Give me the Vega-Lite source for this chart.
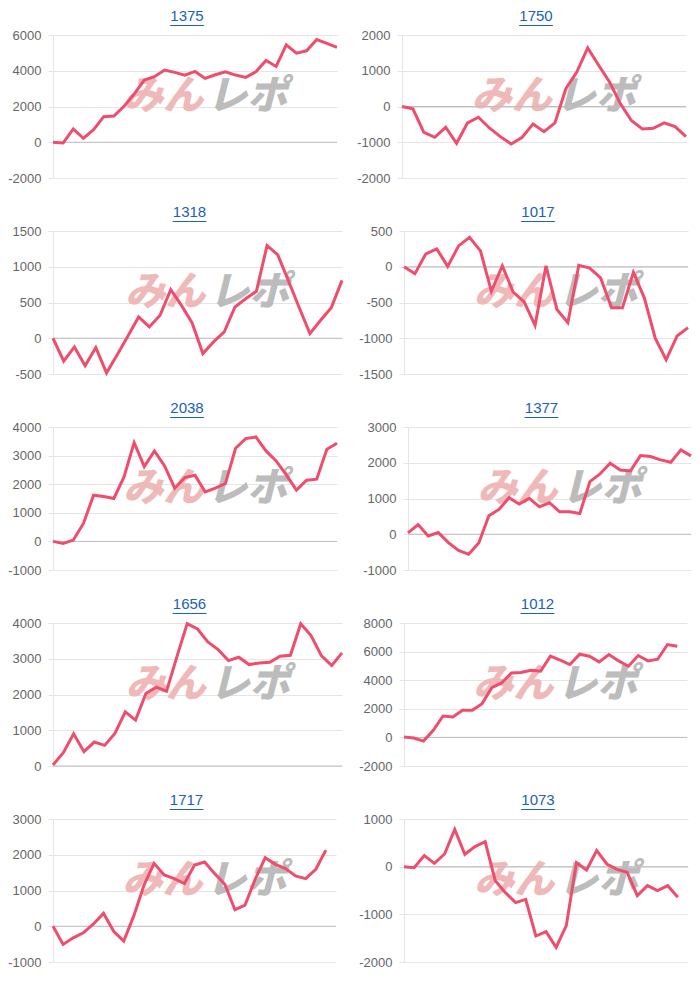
{
  "$schema": "https://vega.github.io/schema/vega-lite/v6.json",
  "background": "white",
  "padding": {"left": 0, "top": 9, "right": 0, "bottom": 0},
  "config": {
    "view": {"stroke": null},
    "font": "Liberation Sans",
    "axis": {
      "labelFont": "Liberation Sans",
      "labelFontSize": 13,
      "labelColor": "#666666",
      "labelPadding": 7,
      "labelOverlap": false,
      "labelExpr": "'' + datum.value",
      "grid": true,
      "tickSize": 5,
      "tickColor": "#e5e5e5",
      "gridColor": "#e5e5e5",
      "domainColor": "#e5e5e5",
      "title": null
    },
    "title": {
      "font": "Liberation Sans",
      "fontSize": 15,
      "fontWeight": "normal",
      "color": "#1a62b8",
      "anchor": "middle",
      "frame": "group",
      "dx": -8,
      "offset": 3,
      "subtitleFont": "Liberation Sans",
      "subtitleFontSize": 15,
      "subtitleColor": "#1a62b8",
      "subtitlePadding": -13
    }
  },
  "datasets": {
    "p1375": [{"i":0,"v":0},{"i":1,"v":-40},{"i":2,"v":744},{"i":3,"v":223},{"i":4,"v":707},{"i":5,"v":1433},{"i":6,"v":1470},{"i":7,"v":2009},{"i":8,"v":2698},{"i":9,"v":3479},{"i":10,"v":3665},{"i":11,"v":4037},{"i":12,"v":3907},{"i":13,"v":3758},{"i":14,"v":3963},{"i":15,"v":3572},{"i":16,"v":3777},{"i":17,"v":3944},{"i":18,"v":3758},{"i":19,"v":3628},{"i":20,"v":3944},{"i":21,"v":4577},{"i":22,"v":4242},{"i":23,"v":5451},{"i":24,"v":4986},{"i":25,"v":5116},{"i":26,"v":5749},{"i":27,"v":5526},{"i":28,"v":5302}],
    "p1750": [{"i":0,"v":0},{"i":1,"v":-66},{"i":2,"v":-721},{"i":3,"v":-862},{"i":4,"v":-581},{"i":5,"v":-1030},{"i":6,"v":-459},{"i":7,"v":-300},{"i":8,"v":-600},{"i":9,"v":-843},{"i":10,"v":-1049},{"i":11,"v":-862},{"i":12,"v":-487},{"i":13,"v":-703},{"i":14,"v":-459},{"i":15,"v":496},{"i":16,"v":965},{"i":17,"v":1639},{"i":18,"v":1152},{"i":19,"v":684},{"i":20,"v":75},{"i":21,"v":-393},{"i":22,"v":-628},{"i":23,"v":-609},{"i":24,"v":-459},{"i":25,"v":-562},{"i":26,"v":-843}],
    "p1318": [{"i":0,"v":0},{"i":1,"v":-321},{"i":2,"v":-121},{"i":3,"v":-386},{"i":4,"v":-130},{"i":5,"v":-484},{"i":6,"v":-230},{"i":7,"v":30},{"i":8,"v":298},{"i":9,"v":158},{"i":10,"v":321},{"i":11,"v":679},{"i":12,"v":460},{"i":13,"v":214},{"i":14,"v":-214},{"i":15,"v":-51},{"i":16,"v":88},{"i":17,"v":437},{"i":18,"v":553},{"i":19,"v":656},{"i":20,"v":1298},{"i":21,"v":1167},{"i":22,"v":800},{"i":23,"v":430},{"i":24,"v":65},{"i":25,"v":251},{"i":26,"v":428},{"i":27,"v":809}],
    "p1017": [{"i":0,"v":0},{"i":1,"v":-97},{"i":2,"v":181},{"i":3,"v":250},{"i":4,"v":5},{"i":5,"v":292},{"i":6,"v":412},{"i":7,"v":222},{"i":8,"v":-343},{"i":9,"v":14},{"i":10,"v":-356},{"i":11,"v":-491},{"i":12,"v":-819},{"i":13,"v":14},{"i":14,"v":-597},{"i":15,"v":-782},{"i":16,"v":19},{"i":17,"v":-19},{"i":18,"v":-157},{"i":19,"v":-574},{"i":20,"v":-574},{"i":21,"v":-79},{"i":22,"v":-435},{"i":23,"v":-1000},{"i":24,"v":-1301},{"i":25,"v":-968},{"i":26,"v":-852}],
    "p2038": [{"i":0,"v":0},{"i":1,"v":-70},{"i":2,"v":47},{"i":3,"v":628},{"i":4,"v":1616},{"i":5,"v":1570},{"i":6,"v":1500},{"i":7,"v":2256},{"i":8,"v":3453},{"i":9,"v":2616},{"i":10,"v":3163},{"i":11,"v":2640},{"i":12,"v":1860},{"i":13,"v":2233},{"i":14,"v":2314},{"i":15,"v":1733},{"i":16,"v":1860},{"i":17,"v":2023},{"i":18,"v":3256},{"i":19,"v":3593},{"i":20,"v":3651},{"i":21,"v":3163},{"i":22,"v":2814},{"i":23,"v":2326},{"i":24,"v":1791},{"i":25,"v":2140},{"i":26,"v":2174},{"i":27,"v":3221},{"i":28,"v":3430}],
    "p1377": [{"i":0,"v":37},{"i":1,"v":272},{"i":2,"v":-47},{"i":3,"v":47},{"i":4,"v":-234},{"i":5,"v":-450},{"i":6,"v":-562},{"i":7,"v":-243},{"i":8,"v":515},{"i":9,"v":693},{"i":10,"v":1021},{"i":11,"v":843},{"i":12,"v":1002},{"i":13,"v":768},{"i":14,"v":881},{"i":15,"v":628},{"i":16,"v":628},{"i":17,"v":581},{"i":18,"v":1471},{"i":19,"v":1686},{"i":20,"v":1986},{"i":21,"v":1799},{"i":22,"v":1770},{"i":23,"v":2201},{"i":24,"v":2173},{"i":25,"v":2079},{"i":26,"v":2014},{"i":27,"v":2360},{"i":28,"v":2192}],
    "p1656": [{"i":0,"v":28},{"i":1,"v":372},{"i":2,"v":902},{"i":3,"v":400},{"i":4,"v":670},{"i":5,"v":577},{"i":6,"v":912},{"i":7,"v":1516},{"i":8,"v":1284},{"i":9,"v":2028},{"i":10,"v":2205},{"i":11,"v":2093},{"i":12,"v":3051},{"i":13,"v":3981},{"i":14,"v":3833},{"i":15,"v":3470},{"i":16,"v":3256},{"i":17,"v":2949},{"i":18,"v":3042},{"i":19,"v":2837},{"i":20,"v":2884},{"i":21,"v":2902},{"i":22,"v":3070},{"i":23,"v":3098},{"i":24,"v":3981},{"i":25,"v":3647},{"i":26,"v":3088},{"i":27,"v":2809},{"i":28,"v":3163}],
    "p1012": [{"i":0,"v":23},{"i":1,"v":-47},{"i":2,"v":-257},{"i":3,"v":491},{"i":4,"v":1495},{"i":5,"v":1425},{"i":6,"v":1893},{"i":7,"v":1893},{"i":8,"v":2360},{"i":9,"v":3481},{"i":10,"v":3808},{"i":11,"v":4509},{"i":12,"v":4533},{"i":13,"v":4696},{"i":14,"v":4626},{"i":15,"v":5678},{"i":16,"v":5397},{"i":17,"v":5093},{"i":18,"v":5818},{"i":19,"v":5678},{"i":20,"v":5280},{"i":21,"v":5794},{"i":22,"v":5350},{"i":23,"v":4977},{"i":24,"v":5724},{"i":25,"v":5350},{"i":26,"v":5467},{"i":27,"v":6495},{"i":28,"v":6379}],
    "p1717": [{"i":0,"v":0},{"i":1,"v":-509},{"i":2,"v":-324},{"i":3,"v":-185},{"i":4,"v":65},{"i":5,"v":361},{"i":6,"v":-139},{"i":7,"v":-417},{"i":8,"v":296},{"i":9,"v":1148},{"i":10,"v":1759},{"i":11,"v":1435},{"i":12,"v":1333},{"i":13,"v":1194},{"i":14,"v":1713},{"i":15,"v":1796},{"i":16,"v":1472},{"i":17,"v":1176},{"i":18,"v":463},{"i":19,"v":593},{"i":20,"v":1315},{"i":21,"v":1917},{"i":22,"v":1731},{"i":23,"v":1611},{"i":24,"v":1407},{"i":25,"v":1333},{"i":26,"v":1593},{"i":27,"v":2130}],
    "p1073": [{"i":0,"v":0},{"i":1,"v":-21},{"i":2,"v":231},{"i":3,"v":70},{"i":4,"v":266},{"i":5,"v":783},{"i":6,"v":259},{"i":7,"v":420},{"i":8,"v":524},{"i":9,"v":-294},{"i":10,"v":-545},{"i":11,"v":-755},{"i":12,"v":-685},{"i":13,"v":-1455},{"i":14,"v":-1364},{"i":15,"v":-1692},{"i":16,"v":-1238},{"i":17,"v":84},{"i":18,"v":-70},{"i":19,"v":336},{"i":20,"v":56},{"i":21,"v":-56},{"i":22,"v":-119},{"i":23,"v":-608},{"i":24,"v":-399},{"i":25,"v":-503},{"i":26,"v":-399},{"i":27,"v":-643}],
    "one": [{}]
  },
  "spacing": 20,
  "vconcat": [
    {"spacing": 13, "hconcat": [
      {"width": 284, "height": 143, "data": {"name": "p1375"}, "title": {"text": "1375", "subtitle": "____"},
       "layer": [
         {"data": {"name": "one"}, "mark": {"type": "text", "text": "みん", "align": "right", "baseline": "middle", "dx": -2, "font": "Noto Sans CJK JP", "fontWeight": 900, "fontStyle": "italic", "fontSize": 40, "color": "#f0b9b9"}, "encoding": {"x": {"datum": 15.0, "type": "quantitative", "axis": null}, "y": {"datum": 2520, "type": "quantitative", "axis": {"values": [-2000, 0, 2000, 4000, 6000], "minExtent": 53, "maxExtent": 53}}}},
         {"data": {"name": "one"}, "mark": {"type": "text", "text": "レポ", "align": "left", "baseline": "middle", "dx": 2, "font": "Noto Sans CJK JP", "fontWeight": 900, "fontStyle": "italic", "fontSize": 40, "color": "#bcbcbc"}, "encoding": {"x": {"datum": 15.0, "type": "quantitative", "axis": null}, "y": {"datum": 2520, "type": "quantitative", "axis": {"values": [-2000, 0, 2000, 4000, 6000], "minExtent": 53, "maxExtent": 53}}}},
         {"data": {"name": "one"}, "mark": {"type": "rule", "color": "#bdbdbd", "strokeWidth": 1}, "encoding": {"y": {"datum": 0, "type": "quantitative", "axis": {"values": [-2000, 0, 2000, 4000, 6000], "minExtent": 53, "maxExtent": 53}}}},
         {"mark": {"type": "line", "color": "#f04c6c", "strokeWidth": 3}, "encoding": {
           "x": {"field": "i", "type": "quantitative", "scale": {"domain": [0, 28], "nice": false, "zero": false}, "axis": null},
           "y": {"field": "v", "type": "quantitative", "scale": {"domain": [-2000, 6000], "nice": false, "zero": false}, "axis": {"values": [-2000, 0, 2000, 4000, 6000], "minExtent": 53, "maxExtent": 53}}}}
       ]},
      {"width": 284, "height": 143, "data": {"name": "p1750"}, "title": {"text": "1750", "subtitle": "____"},
       "layer": [
         {"data": {"name": "one"}, "mark": {"type": "text", "text": "みん", "align": "right", "baseline": "middle", "dx": -2, "font": "Noto Sans CJK JP", "fontWeight": 900, "fontStyle": "italic", "fontSize": 40, "color": "#f0b9b9"}, "encoding": {"x": {"datum": 13.9, "type": "quantitative", "axis": null}, "y": {"datum": 260, "type": "quantitative", "axis": {"values": [-2000, -1000, 0, 1000, 2000], "minExtent": 46, "maxExtent": 46}}}},
         {"data": {"name": "one"}, "mark": {"type": "text", "text": "レポ", "align": "left", "baseline": "middle", "dx": 2, "font": "Noto Sans CJK JP", "fontWeight": 900, "fontStyle": "italic", "fontSize": 40, "color": "#bcbcbc"}, "encoding": {"x": {"datum": 13.9, "type": "quantitative", "axis": null}, "y": {"datum": 260, "type": "quantitative", "axis": {"values": [-2000, -1000, 0, 1000, 2000], "minExtent": 46, "maxExtent": 46}}}},
         {"data": {"name": "one"}, "mark": {"type": "rule", "color": "#bdbdbd", "strokeWidth": 1}, "encoding": {"y": {"datum": 0, "type": "quantitative", "axis": {"values": [-2000, -1000, 0, 1000, 2000], "minExtent": 46, "maxExtent": 46}}}},
         {"mark": {"type": "line", "color": "#f04c6c", "strokeWidth": 3}, "encoding": {
           "x": {"field": "i", "type": "quantitative", "scale": {"domain": [0, 26], "nice": false, "zero": false}, "axis": null},
           "y": {"field": "v", "type": "quantitative", "scale": {"domain": [-2000, 2000], "nice": false, "zero": false}, "axis": {"values": [-2000, -1000, 0, 1000, 2000], "minExtent": 46, "maxExtent": 46}}}}
       ]}
    ]},
    {"spacing": 10, "hconcat": [
      {"width": 289, "height": 143, "data": {"name": "p1318"}, "title": {"text": "1318", "subtitle": "____"},
       "layer": [
         {"data": {"name": "one"}, "mark": {"type": "text", "text": "みん", "align": "right", "baseline": "middle", "dx": -2, "font": "Noto Sans CJK JP", "fontWeight": 900, "fontStyle": "italic", "fontSize": 40, "color": "#f0b9b9"}, "encoding": {"x": {"datum": 14.4, "type": "quantitative", "axis": null}, "y": {"datum": 630, "type": "quantitative", "axis": {"values": [-500, 0, 500, 1000, 1500], "minExtent": 48, "maxExtent": 48}}}},
         {"data": {"name": "one"}, "mark": {"type": "text", "text": "レポ", "align": "left", "baseline": "middle", "dx": 2, "font": "Noto Sans CJK JP", "fontWeight": 900, "fontStyle": "italic", "fontSize": 40, "color": "#bcbcbc"}, "encoding": {"x": {"datum": 14.4, "type": "quantitative", "axis": null}, "y": {"datum": 630, "type": "quantitative", "axis": {"values": [-500, 0, 500, 1000, 1500], "minExtent": 48, "maxExtent": 48}}}},
         {"data": {"name": "one"}, "mark": {"type": "rule", "color": "#bdbdbd", "strokeWidth": 1}, "encoding": {"y": {"datum": 0, "type": "quantitative", "axis": {"values": [-500, 0, 500, 1000, 1500], "minExtent": 48, "maxExtent": 48}}}},
         {"mark": {"type": "line", "color": "#f04c6c", "strokeWidth": 3}, "encoding": {
           "x": {"field": "i", "type": "quantitative", "scale": {"domain": [0, 27], "nice": false, "zero": false}, "axis": null},
           "y": {"field": "v", "type": "quantitative", "scale": {"domain": [-500, 1500], "nice": false, "zero": false}, "axis": {"values": [-500, 0, 500, 1000, 1500], "minExtent": 48, "maxExtent": 48}}}}
       ]},
      {"width": 284, "height": 143, "data": {"name": "p1017"}, "title": {"text": "1017", "subtitle": "____"},
       "layer": [
         {"data": {"name": "one"}, "mark": {"type": "text", "text": "みん", "align": "right", "baseline": "middle", "dx": -2, "font": "Noto Sans CJK JP", "fontWeight": 900, "fontStyle": "italic", "fontSize": 40, "color": "#f0b9b9"}, "encoding": {"x": {"datum": 13.9, "type": "quantitative", "axis": null}, "y": {"datum": -370, "type": "quantitative", "axis": {"values": [-1500, -1000, -500, 0, 500], "minExtent": 46, "maxExtent": 46}}}},
         {"data": {"name": "one"}, "mark": {"type": "text", "text": "レポ", "align": "left", "baseline": "middle", "dx": 2, "font": "Noto Sans CJK JP", "fontWeight": 900, "fontStyle": "italic", "fontSize": 40, "color": "#bcbcbc"}, "encoding": {"x": {"datum": 13.9, "type": "quantitative", "axis": null}, "y": {"datum": -370, "type": "quantitative", "axis": {"values": [-1500, -1000, -500, 0, 500], "minExtent": 46, "maxExtent": 46}}}},
         {"data": {"name": "one"}, "mark": {"type": "rule", "color": "#bdbdbd", "strokeWidth": 1}, "encoding": {"y": {"datum": 0, "type": "quantitative", "axis": {"values": [-1500, -1000, -500, 0, 500], "minExtent": 46, "maxExtent": 46}}}},
         {"mark": {"type": "line", "color": "#f04c6c", "strokeWidth": 3}, "encoding": {
           "x": {"field": "i", "type": "quantitative", "scale": {"domain": [0, 26], "nice": false, "zero": false}, "axis": null},
           "y": {"field": "v", "type": "quantitative", "scale": {"domain": [-1500, 500], "nice": false, "zero": false}, "axis": {"values": [-1500, -1000, -500, 0, 500], "minExtent": 46, "maxExtent": 46}}}}
       ]}
    ]},
    {"spacing": 14, "hconcat": [
      {"width": 284, "height": 143, "data": {"name": "p2038"}, "title": {"text": "2038", "subtitle": "____"},
       "layer": [
         {"data": {"name": "one"}, "mark": {"type": "text", "text": "みん", "align": "right", "baseline": "middle", "dx": -2, "font": "Noto Sans CJK JP", "fontWeight": 900, "fontStyle": "italic", "fontSize": 40, "color": "#f0b9b9"}, "encoding": {"x": {"datum": 15.0, "type": "quantitative", "axis": null}, "y": {"datum": 1825, "type": "quantitative", "axis": {"values": [-1000, 0, 1000, 2000, 3000, 4000], "minExtent": 53, "maxExtent": 53}}}},
         {"data": {"name": "one"}, "mark": {"type": "text", "text": "レポ", "align": "left", "baseline": "middle", "dx": 2, "font": "Noto Sans CJK JP", "fontWeight": 900, "fontStyle": "italic", "fontSize": 40, "color": "#bcbcbc"}, "encoding": {"x": {"datum": 15.0, "type": "quantitative", "axis": null}, "y": {"datum": 1825, "type": "quantitative", "axis": {"values": [-1000, 0, 1000, 2000, 3000, 4000], "minExtent": 53, "maxExtent": 53}}}},
         {"data": {"name": "one"}, "mark": {"type": "rule", "color": "#bdbdbd", "strokeWidth": 1}, "encoding": {"y": {"datum": 0, "type": "quantitative", "axis": {"values": [-1000, 0, 1000, 2000, 3000, 4000], "minExtent": 53, "maxExtent": 53}}}},
         {"mark": {"type": "line", "color": "#f04c6c", "strokeWidth": 3}, "encoding": {
           "x": {"field": "i", "type": "quantitative", "scale": {"domain": [0, 28], "nice": false, "zero": false}, "axis": null},
           "y": {"field": "v", "type": "quantitative", "scale": {"domain": [-1000, 4000], "nice": false, "zero": false}, "axis": {"values": [-1000, 0, 1000, 2000, 3000, 4000], "minExtent": 53, "maxExtent": 53}}}}
       ]},
      {"width": 283, "height": 143, "data": {"name": "p1377"}, "title": {"text": "1377", "subtitle": "____"},
       "layer": [
         {"data": {"name": "one"}, "mark": {"type": "text", "text": "みん", "align": "right", "baseline": "middle", "dx": -2, "font": "Noto Sans CJK JP", "fontWeight": 900, "fontStyle": "italic", "fontSize": 40, "color": "#f0b9b9"}, "encoding": {"x": {"datum": 15.0, "type": "quantitative", "axis": null}, "y": {"datum": 1260, "type": "quantitative", "axis": {"values": [-1000, 0, 1000, 2000, 3000], "minExtent": 51, "maxExtent": 51}}}},
         {"data": {"name": "one"}, "mark": {"type": "text", "text": "レポ", "align": "left", "baseline": "middle", "dx": 2, "font": "Noto Sans CJK JP", "fontWeight": 900, "fontStyle": "italic", "fontSize": 40, "color": "#bcbcbc"}, "encoding": {"x": {"datum": 15.0, "type": "quantitative", "axis": null}, "y": {"datum": 1260, "type": "quantitative", "axis": {"values": [-1000, 0, 1000, 2000, 3000], "minExtent": 51, "maxExtent": 51}}}},
         {"data": {"name": "one"}, "mark": {"type": "rule", "color": "#bdbdbd", "strokeWidth": 1}, "encoding": {"y": {"datum": 0, "type": "quantitative", "axis": {"values": [-1000, 0, 1000, 2000, 3000], "minExtent": 51, "maxExtent": 51}}}},
         {"mark": {"type": "line", "color": "#f04c6c", "strokeWidth": 3}, "encoding": {
           "x": {"field": "i", "type": "quantitative", "scale": {"domain": [0, 28], "nice": false, "zero": false}, "axis": null},
           "y": {"field": "v", "type": "quantitative", "scale": {"domain": [-1000, 3000], "nice": false, "zero": false}, "axis": {"values": [-1000, 0, 1000, 2000, 3000], "minExtent": 51, "maxExtent": 51}}}}
       ]}
    ]},
    {"spacing": 10, "hconcat": [
      {"width": 289, "height": 143, "data": {"name": "p1656"}, "title": {"text": "1656", "subtitle": "____"},
       "layer": [
         {"data": {"name": "one"}, "mark": {"type": "text", "text": "みん", "align": "right", "baseline": "middle", "dx": -2, "font": "Noto Sans CJK JP", "fontWeight": 900, "fontStyle": "italic", "fontSize": 40, "color": "#f0b9b9"}, "encoding": {"x": {"datum": 15.0, "type": "quantitative", "axis": null}, "y": {"datum": 2260, "type": "quantitative", "axis": {"values": [0, 1000, 2000, 3000, 4000], "minExtent": 48, "maxExtent": 48}}}},
         {"data": {"name": "one"}, "mark": {"type": "text", "text": "レポ", "align": "left", "baseline": "middle", "dx": 2, "font": "Noto Sans CJK JP", "fontWeight": 900, "fontStyle": "italic", "fontSize": 40, "color": "#bcbcbc"}, "encoding": {"x": {"datum": 15.0, "type": "quantitative", "axis": null}, "y": {"datum": 2260, "type": "quantitative", "axis": {"values": [0, 1000, 2000, 3000, 4000], "minExtent": 48, "maxExtent": 48}}}},
         {"data": {"name": "one"}, "mark": {"type": "rule", "color": "#bdbdbd", "strokeWidth": 1}, "encoding": {"y": {"datum": 0, "type": "quantitative", "axis": {"values": [0, 1000, 2000, 3000, 4000], "minExtent": 48, "maxExtent": 48}}}},
         {"mark": {"type": "line", "color": "#f04c6c", "strokeWidth": 3}, "encoding": {
           "x": {"field": "i", "type": "quantitative", "scale": {"domain": [0, 28], "nice": false, "zero": false}, "axis": null},
           "y": {"field": "v", "type": "quantitative", "scale": {"domain": [0, 4000], "nice": false, "zero": false}, "axis": {"values": [0, 1000, 2000, 3000, 4000], "minExtent": 48, "maxExtent": 48}}}}
       ]},
      {"width": 283, "height": 143, "data": {"name": "p1012"}, "title": {"text": "1012", "subtitle": "____"},
       "layer": [
         {"data": {"name": "one"}, "mark": {"type": "text", "text": "みん", "align": "right", "baseline": "middle", "dx": -2, "font": "Noto Sans CJK JP", "fontWeight": 900, "fontStyle": "italic", "fontSize": 40, "color": "#f0b9b9"}, "encoding": {"x": {"datum": 15.5, "type": "quantitative", "axis": null}, "y": {"datum": 3650, "type": "quantitative", "axis": {"values": [-2000, 0, 2000, 4000, 6000, 8000], "minExtent": 45, "maxExtent": 45}}}},
         {"data": {"name": "one"}, "mark": {"type": "text", "text": "レポ", "align": "left", "baseline": "middle", "dx": 2, "font": "Noto Sans CJK JP", "fontWeight": 900, "fontStyle": "italic", "fontSize": 40, "color": "#bcbcbc"}, "encoding": {"x": {"datum": 15.5, "type": "quantitative", "axis": null}, "y": {"datum": 3650, "type": "quantitative", "axis": {"values": [-2000, 0, 2000, 4000, 6000, 8000], "minExtent": 45, "maxExtent": 45}}}},
         {"data": {"name": "one"}, "mark": {"type": "rule", "color": "#bdbdbd", "strokeWidth": 1}, "encoding": {"y": {"datum": 0, "type": "quantitative", "axis": {"values": [-2000, 0, 2000, 4000, 6000, 8000], "minExtent": 45, "maxExtent": 45}}}},
         {"mark": {"type": "line", "color": "#f04c6c", "strokeWidth": 3}, "encoding": {
           "x": {"field": "i", "type": "quantitative", "scale": {"domain": [0, 29], "nice": false, "zero": false}, "axis": null},
           "y": {"field": "v", "type": "quantitative", "scale": {"domain": [-2000, 8000], "nice": false, "zero": false}, "axis": {"values": [-2000, 0, 2000, 4000, 6000, 8000], "minExtent": 45, "maxExtent": 45}}}}
       ]}
    ]},
    {"spacing": 16, "hconcat": [
      {"width": 283, "height": 143, "data": {"name": "p1717"}, "title": {"text": "1717", "subtitle": "____"},
       "layer": [
         {"data": {"name": "one"}, "mark": {"type": "text", "text": "みん", "align": "right", "baseline": "middle", "dx": -2, "font": "Noto Sans CJK JP", "fontWeight": 900, "fontStyle": "italic", "fontSize": 40, "color": "#f0b9b9"}, "encoding": {"x": {"datum": 15.0, "type": "quantitative", "axis": null}, "y": {"datum": 1260, "type": "quantitative", "axis": {"values": [-1000, 0, 1000, 2000, 3000], "minExtent": 51, "maxExtent": 51}}}},
         {"data": {"name": "one"}, "mark": {"type": "text", "text": "レポ", "align": "left", "baseline": "middle", "dx": 2, "font": "Noto Sans CJK JP", "fontWeight": 900, "fontStyle": "italic", "fontSize": 40, "color": "#bcbcbc"}, "encoding": {"x": {"datum": 15.0, "type": "quantitative", "axis": null}, "y": {"datum": 1260, "type": "quantitative", "axis": {"values": [-1000, 0, 1000, 2000, 3000], "minExtent": 51, "maxExtent": 51}}}},
         {"data": {"name": "one"}, "mark": {"type": "rule", "color": "#bdbdbd", "strokeWidth": 1}, "encoding": {"y": {"datum": 0, "type": "quantitative", "axis": {"values": [-1000, 0, 1000, 2000, 3000], "minExtent": 51, "maxExtent": 51}}}},
         {"mark": {"type": "line", "color": "#f04c6c", "strokeWidth": 3}, "encoding": {
           "x": {"field": "i", "type": "quantitative", "scale": {"domain": [0, 28], "nice": false, "zero": false}, "axis": null},
           "y": {"field": "v", "type": "quantitative", "scale": {"domain": [-1000, 3000], "nice": false, "zero": false}, "axis": {"values": [-1000, 0, 1000, 2000, 3000], "minExtent": 51, "maxExtent": 51}}}}
       ]},
      {"width": 284, "height": 143, "data": {"name": "p1073"}, "title": {"text": "1073", "subtitle": "____"},
       "layer": [
         {"data": {"name": "one"}, "mark": {"type": "text", "text": "みん", "align": "right", "baseline": "middle", "dx": -2, "font": "Noto Sans CJK JP", "fontWeight": 900, "fontStyle": "italic", "fontSize": 40, "color": "#f0b9b9"}, "encoding": {"x": {"datum": 15.0, "type": "quantitative", "axis": null}, "y": {"datum": -305, "type": "quantitative", "axis": {"values": [-2000, -1000, 0, 1000], "minExtent": 51, "maxExtent": 51}}}},
         {"data": {"name": "one"}, "mark": {"type": "text", "text": "レポ", "align": "left", "baseline": "middle", "dx": 2, "font": "Noto Sans CJK JP", "fontWeight": 900, "fontStyle": "italic", "fontSize": 40, "color": "#bcbcbc"}, "encoding": {"x": {"datum": 15.0, "type": "quantitative", "axis": null}, "y": {"datum": -305, "type": "quantitative", "axis": {"values": [-2000, -1000, 0, 1000], "minExtent": 51, "maxExtent": 51}}}},
         {"data": {"name": "one"}, "mark": {"type": "rule", "color": "#bdbdbd", "strokeWidth": 1}, "encoding": {"y": {"datum": 0, "type": "quantitative", "axis": {"values": [-2000, -1000, 0, 1000], "minExtent": 51, "maxExtent": 51}}}},
         {"mark": {"type": "line", "color": "#f04c6c", "strokeWidth": 3}, "encoding": {
           "x": {"field": "i", "type": "quantitative", "scale": {"domain": [0, 28], "nice": false, "zero": false}, "axis": null},
           "y": {"field": "v", "type": "quantitative", "scale": {"domain": [-2000, 1000], "nice": false, "zero": false}, "axis": {"values": [-2000, -1000, 0, 1000], "minExtent": 51, "maxExtent": 51}}}}
       ]}
    ]}
  ]
}
